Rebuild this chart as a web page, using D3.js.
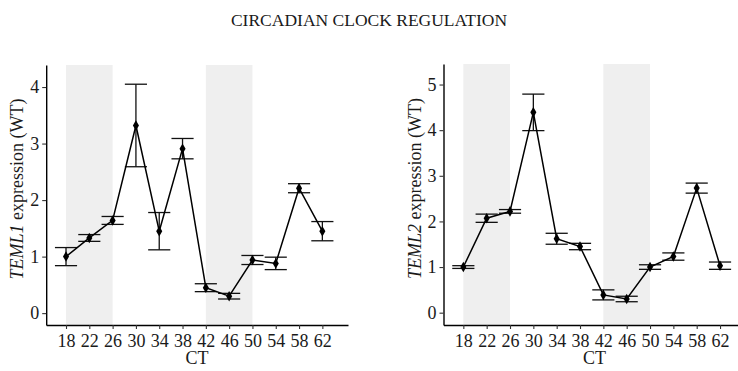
<!DOCTYPE html>
<html>
<head>
<meta charset="utf-8">
<script src="https://cdn.jsdelivr.net/npm/d3@7"></script>
<style>
    body { margin: 0; background: #fff; }
    text { font-family: "Liberation Serif", "Times New Roman", serif; fill: #1a1a1a; }
</style>
</head>
<body>
<div id="chart"></div>
<script>
// data
const ct = [18, 22, 26, 30, 34, 38, 42, 46, 50, 54, 58, 62];
const teml1Mean = [1.00, 1.33, 1.64, 3.32, 1.45, 2.91, 0.45, 0.30, 0.94, 0.88, 2.21, 1.45];
const teml1Err  = [0.16, 0.06, 0.07, 0.73, 0.33, 0.18, 0.07, 0.05, 0.08, 0.11, 0.08, 0.17];
const teml2Mean = [1.00, 2.07, 2.22, 4.39, 1.62, 1.45, 0.39, 0.30, 1.00, 1.23, 2.73, 1.03];
const teml2Err  = [0.03, 0.09, 0.04, 0.40, 0.12, 0.07, 0.11, 0.06, 0.05, 0.08, 0.11, 0.08];
const darkPeriods = [[18, 26], [42, 50]];
const yTicks1 = [0, 1, 2, 3, 4];
const yTicks2 = [0, 1, 2, 3, 4, 5];

const width = 738, height = 371;
const serif = "'Liberation Serif', 'Times New Roman', serif";

const svg = d3.select("#chart")
    .append("svg")
    .attr("width", width)
    .attr("height", height);

svg.append("text")
    .attr("x", width / 2)
    .attr("y", 26)
    .attr("text-anchor", "middle")
    .style("font-size", "17.5px")
    .text("CIRCADIAN CLOCK REGULATION");

function drawPanel(p) {
    const x = d3.scaleLinear().domain([14.6, 66.4]).range([p.left, p.right]);
    const y = d3.scaleLinear().domain(p.yDomain).range([p.bottom, p.top]);
    const g = svg.append("g");

    // shaded dark phases
    g.selectAll("rect.shade")
        .data(darkPeriods)
        .join("rect")
        .attr("class", "shade")
        .attr("x", d => x(d[0]))
        .attr("width", d => x(d[1]) - x(d[0]))
        .attr("y", p.top)
        .attr("height", p.bottom - p.top)
        .attr("fill", "#efefef");

    const rows = ct.map((c, i) => ({ ct: c, mean: p.mean[i], err: p.err[i] }));
    const capHalf = 1.9;

    // error bars
    const eb = g.append("g").attr("stroke", "#111").attr("stroke-width", 1.3);
    eb.selectAll("line.v")
        .data(rows)
        .join("line")
        .attr("x1", d => x(d.ct)).attr("x2", d => x(d.ct))
        .attr("y1", d => y(d.mean - d.err)).attr("y2", d => y(d.mean + d.err));
    eb.selectAll("line.top")
        .data(rows)
        .join("line")
        .attr("x1", d => x(d.ct - capHalf)).attr("x2", d => x(d.ct + capHalf))
        .attr("y1", d => y(d.mean + d.err)).attr("y2", d => y(d.mean + d.err));
    eb.selectAll("line.bot")
        .data(rows)
        .join("line")
        .attr("x1", d => x(d.ct - capHalf)).attr("x2", d => x(d.ct + capHalf))
        .attr("y1", d => y(d.mean - d.err)).attr("y2", d => y(d.mean - d.err));

    // line
    g.append("path")
        .datum(rows)
        .attr("fill", "none")
        .attr("stroke", "#000")
        .attr("stroke-width", 1.5)
        .attr("d", d3.line().x(d => x(d.ct)).y(d => y(d.mean)));

    // points
    g.selectAll("path.pt")
        .data(rows)
        .join("path")
        .attr("class", "pt")
        .attr("transform", d => `translate(${x(d.ct)},${y(d.mean)})`)
        .attr("d", d3.symbol(d3.symbolDiamond, 32))
        .attr("fill", "#000");

    // axes
    const xAxis = g.append("g")
        .attr("transform", `translate(0,${p.bottom})`)
        .call(d3.axisBottom(x).tickValues(ct).tickFormat(d3.format("d")).tickSize(4).tickPadding(5).tickSizeOuter(0));
    const yAxis = g.append("g")
        .attr("transform", `translate(${p.left},0)`)
        .call(d3.axisLeft(y).tickValues(p.yTicks).tickFormat(d3.format("d")).tickSize(4).tickPadding(3).tickSizeOuter(0));
    [xAxis, yAxis].forEach(a => {
        a.attr("font-family", serif).attr("font-size", 18);
        a.select(".domain").attr("stroke", "#000").attr("stroke-width", 1.4);
        a.selectAll(".tick line").attr("stroke", "#333").attr("stroke-width", 1.1);
        a.selectAll(".tick text").attr("fill", "#1a1a1a");
    });

    g.append("text")
        .attr("x", (p.left + p.right) / 2)
        .attr("y", 364)
        .attr("text-anchor", "middle")
        .style("font-size", "18px")
        .text("CT");

    const yl = g.append("text")
        .attr("transform", `translate(${p.labelX},${(p.top + p.bottom) / 2 - 6}) rotate(-90)`)
        .attr("text-anchor", "middle")
        .style("font-size", "18px");
    yl.append("tspan").style("font-style", "italic").text(p.gene);
    yl.append("tspan").text(" expression (WT)");
}

drawPanel({
    left: 46.2, right: 348, top: 65, bottom: 325,
    yDomain: [-0.21, 4.39], yTicks: yTicks1,
    mean: teml1Mean, err: teml1Err,
    gene: "TEML1", labelX: 23
});

drawPanel({
    left: 443.5, right: 745.7, top: 64, bottom: 325,
    yDomain: [-0.27, 5.45], yTicks: yTicks2,
    mean: teml2Mean, err: teml2Err,
    gene: "TEML2", labelX: 421
});
</script>
</body>
</html>
